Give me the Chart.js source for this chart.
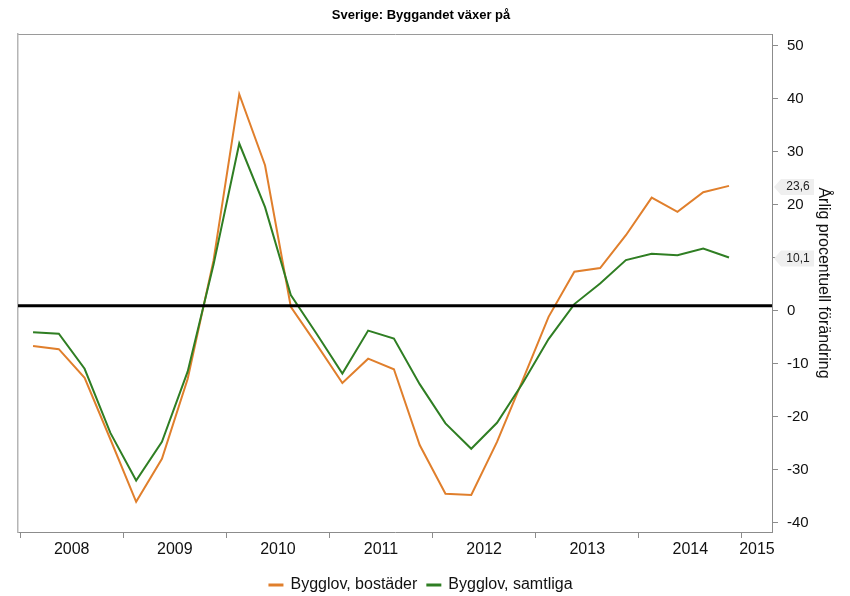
<!DOCTYPE html>
<html>
<head>
<meta charset="utf-8">
<script src="https://cdn.jsdelivr.net/npm/chart.js@4/dist/chart.umd.min.js"></script>
<style>
html,body{margin:0;padding:0;background:#ffffff;}
#wrap{width:850px;height:596px;}
</style>
</head>
<body>
<div id="wrap"><canvas id="c" width="850" height="596"></canvas></div>
<script>
// ---- data ----
const quarters = [
  '2008K1','2008K2','2008K3','2008K4',
  '2009K1','2009K2','2009K3','2009K4',
  '2010K1','2010K2','2010K3','2010K4',
  '2011K1','2011K2','2011K3','2011K4',
  '2012K1','2012K2','2012K3','2012K4',
  '2013K1','2013K2','2013K3','2013K4',
  '2014K1','2014K2','2014K3','2014K4'
];
const bostader = [
  -6.6, -7.2, -12.6, -24.2,
  -36.0, -27.9, -12.8, 9.5,
  40.9, 27.5, 0.8, -6.3,
  -13.6, -9.0, -11.0, -25.3,
  -34.5, -34.7, -24.7, -13.0,
  -1.1, 7.4, 8.1, 14.3,
  21.4, 18.7, 22.4, 23.6
];
const samtliga = [
  -4.0, -4.3, -10.9, -23.0,
  -32.0, -24.7, -11.4, 8.7,
  31.6, 19.6, 3.0, -4.3,
  -11.8, -3.7, -5.2, -13.8,
  -21.2, -26.0, -21.1, -13.6,
  -5.3, 1.3, 5.2, 9.6,
  10.8, 10.5, 11.8, 10.1
];
const seriesNames = ['Bygglov, bostäder', 'Bygglov, samtliga'];
const yearTicks = [2008, 2009, 2010, 2011, 2012, 2013, 2014, 2015];
const yTicks = [-40, -30, -20, -10, 0, 10, 20, 30, 40, 50];
const refLevel = 1;
const xMin = 2007.979, xMax = 2015.292;
const yMin = -41.7, yMax = 52.26;

const colOrange = '#E07F2C';
const colGreen = '#2F7E23';
const axisGrey = '#8c8c8c';

// quarter -> decimal year at the middle of the quarter
function qx(q) { const y = parseInt(q.slice(0, 4), 10); const k = parseInt(q.slice(5), 10); return y + (k - 0.5) / 4; }
const ptsB = quarters.map((q, i) => ({ x: qx(q), y: bostader[i] }));
const ptsS = quarters.map((q, i) => ({ x: qx(q), y: samtliga[i] }));
const labelPos = yearTicks.map(y => Math.min(y + 0.5, (y + xMax) / 2));

Chart.defaults.font.family = '"Liberation Sans", Arial, Helvetica, sans-serif';
Chart.defaults.color = '#111';

const callouts = {
  id: 'callouts',
  afterDraw(chart) {
    const ctx = chart.ctx, ys = chart.scales.y, r = chart.chartArea.right;
    const vals = [bostader[bostader.length - 1], samtliga[samtliga.length - 1]];
    ctx.save();
    vals.forEach(v => {
      const py = ys.getPixelForValue(v) + 1;
      const tip = r + 2, bx = r + 9, ex = r + 42, h = 8;
      ctx.fillStyle = '#efefef';
      ctx.beginPath();
      ctx.moveTo(tip, py);
      ctx.lineTo(bx, py - h);
      ctx.lineTo(ex, py - h);
      ctx.lineTo(ex, py + h);
      ctx.lineTo(bx, py + h);
      ctx.closePath();
      ctx.fill();
      ctx.fillStyle = '#222';
      ctx.font = '12px "Liberation Sans", Arial, sans-serif';
      ctx.textAlign = 'center';
      ctx.textBaseline = 'middle';
      ctx.fillText(v.toFixed(1).replace('.', ','), r + 26, py);
    });
    ctx.restore();
  }
};

new Chart(document.getElementById('c'), {
  type: 'line',
  data: {
    datasets: [
      { label: seriesNames[0], data: ptsB, borderColor: colOrange, backgroundColor: colOrange,
        borderWidth: 2, pointRadius: 0, tension: 0, order: 2, yAxisID: 'y', xAxisID: 'x' },
      { label: seriesNames[1], data: ptsS, borderColor: colGreen, backgroundColor: colGreen,
        borderWidth: 2, pointRadius: 0, tension: 0, order: 1, yAxisID: 'y', xAxisID: 'x' },
      { label: 'ref', data: [{ x: xMin, y: refLevel }, { x: xMax, y: refLevel }], borderColor: '#000',
        borderWidth: 3, pointRadius: 0, order: 0, yAxisID: 'y', xAxisID: 'x' }
    ]
  },
  options: {
    responsive: false,
    animation: false,
    devicePixelRatio: 1,
    layout: { padding: { left: 0, right: 8, top: 0, bottom: -7 } },
    plugins: {
      title: {
        display: true, text: 'Sverige: Byggandet växer på', color: '#000',
        font: { size: 13, weight: 'bold' }, padding: { top: 8, bottom: 10.4 }
      },
      legend: {
        position: 'bottom',
        labels: {
          boxWidth: 13, boxHeight: 1, padding: 10, color: '#111', font: { size: 16 },
          filter: item => item.text !== 'ref',
          sort: (a, b) => a.datasetIndex - b.datasetIndex
        }
      },
      tooltip: { enabled: false }
    },
    scales: {
      x: {
        type: 'linear', position: 'bottom', min: xMin, max: xMax, weight: 0,
        afterBuildTicks: s => { s.ticks = yearTicks.map(v => ({ value: v })); },
        afterFit: s => { s.height = 6; },
        ticks: { callback: () => '', autoSkip: false },
        grid: { display: true, drawOnChartArea: false, drawTicks: true, tickLength: 6, color: axisGrey },
        border: { display: true, color: axisGrey, width: 1 }
      },
      x2: {
        type: 'linear', position: 'bottom', min: xMin, max: xMax, weight: 1,
        afterBuildTicks: s => { s.ticks = labelPos.map(v => ({ value: v })); },
        afterFit: s => { s.height = 29; },
        ticks: { autoSkip: false, maxRotation: 0, padding: 2, color: '#111', font: { size: 16 },
          callback: v => String(Math.floor(v)) },
        grid: { display: false, drawTicks: false },
        border: { display: false }
      },
      xTop: {
        type: 'linear', position: 'top', min: xMin, max: xMax,
        afterBuildTicks: s => { s.ticks = yearTicks.map(v => ({ value: v })); },
        afterFit: s => { s.height = 0; },
        ticks: { display: false },
        grid: { display: false, drawTicks: false },
        border: { display: true, color: '#9a9a9a', width: 1 }
      },
      yL: {
        type: 'linear', position: 'left', min: yMin, max: yMax,
        afterFit: s => { s.width = 18; },
        ticks: { display: false },
        grid: { display: false, drawTicks: false },
        border: { display: true, color: '#b5b5b5', width: 1.5 }
      },
      y: {
        type: 'linear', position: 'right', min: yMin, max: yMax,
        afterBuildTicks: s => { s.ticks = yTicks.map(v => ({ value: v })); },
        afterFit: s => { s.width = 70; },
        ticks: { padding: 9, color: '#111', font: { size: 15 }, autoSkip: false },
        grid: { display: true, drawOnChartArea: false, drawTicks: true, tickLength: 6, color: axisGrey },
        border: { display: true, color: axisGrey, width: 1 },
        title: { display: true, text: 'Årlig procentuell förändring', color: '#111',
          font: { size: 16 }, padding: { top: 9, bottom: 9 } }
      }
    }
  },
  plugins: [callouts]
});
</script>
</body>
</html>
